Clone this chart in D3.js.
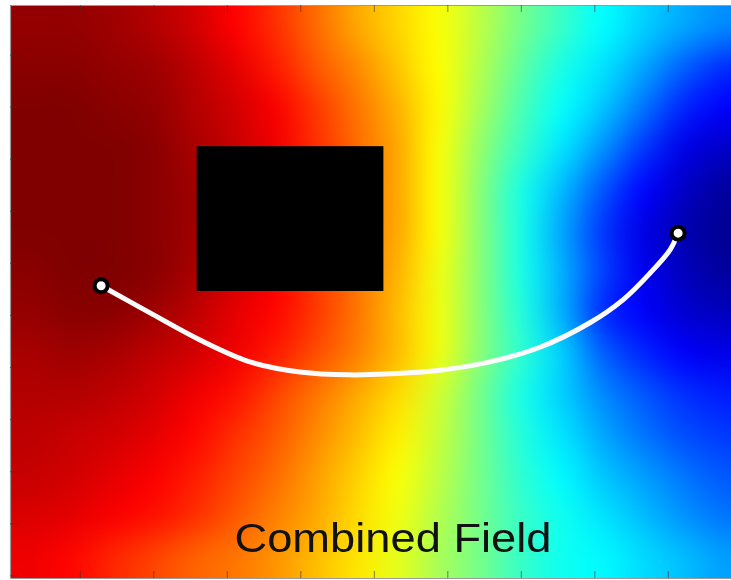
<!DOCTYPE html>
<html>
<head>
<meta charset="utf-8">
<script src="https://cdn.jsdelivr.net/npm/d3@7"></script>
<style>
  html, body { margin: 0; padding: 0; background: #ffffff; }
  #wrap { position: relative; width: 731px; height: 580px; overflow: hidden; }
  canvas, svg { position: absolute; left: 0; top: 0; }
</style>
</head>
<body>
<div id="wrap">
  <canvas id="field" width="731" height="580"></canvas>
  <svg id="chart" width="731" height="580"></svg>
</div>
<script>
// ---------------- DATA ----------------
const titleText = "Combined Field";
const xDomain = [0.5, 100.5];
const yDomain = [0.5, 110.5];
const xTicks = [10, 20, 30, 40, 50, 60, 70, 80, 90, 100];
const yTicks = [10, 20, 30, 40, 50, 60, 70, 80, 90, 100, 110];

// coarse samples of the combined field (0 = low / goal, 1 = high), read row by row, top to bottom
const fieldRows = [
  [0.98,0.98,0.97,0.95,0.92,0.875,0.83,0.77,0.71,0.665,0.62,0.56,0.49,0.43,0.375,0.33,0.29,0.26],
  [0.99,0.99,0.98,0.97,0.94,0.90,0.85,0.79,0.74,0.68,0.625,0.55,0.47,0.40,0.35,0.29,0.22,0.17],
  [1.00,1.00,0.99,0.98,0.95,0.92,0.88,0.82,0.76,0.70,0.63,0.54,0.45,0.38,0.32,0.24,0.16,0.12],
  [1.00,1.00,1.00,0.99,0.96,0.93,0.89,0.83,0.77,0.71,0.62,0.52,0.43,0.35,0.27,0.18,0.10,0.07],
  [1.00,1.00,1.00,0.99,0.97,0.95,0.90,0.85,0.77,0.71,0.62,0.51,0.40,0.31,0.21,0.13,0.07,0.03],
  [1.00,1.00,1.00,0.99,0.97,0.95,0.90,0.85,0.76,0.71,0.62,0.51,0.40,0.29,0.18,0.10,0.05,0.02],
  [0.99,1.00,1.00,0.99,0.96,0.92,0.88,0.82,0.76,0.70,0.61,0.51,0.40,0.30,0.19,0.11,0.06,0.03],
  [0.98,0.99,0.99,0.97,0.94,0.90,0.87,0.82,0.76,0.69,0.61,0.51,0.41,0.30,0.17,0.12,0.08,0.06],
  [0.96,0.97,0.96,0.94,0.92,0.89,0.85,0.80,0.75,0.69,0.61,0.51,0.42,0.33,0.22,0.16,0.12,0.10],
  [0.95,0.95,0.94,0.92,0.89,0.86,0.81,0.76,0.71,0.66,0.58,0.49,0.40,0.33,0.26,0.21,0.17,0.15],
  [0.94,0.93,0.92,0.90,0.87,0.83,0.79,0.74,0.69,0.64,0.57,0.49,0.41,0.35,0.29,0.24,0.20,0.18],
  [0.93,0.92,0.90,0.88,0.85,0.81,0.77,0.72,0.67,0.62,0.56,0.49,0.42,0.37,0.32,0.28,0.24,0.21],
  [0.91,0.90,0.88,0.86,0.83,0.79,0.75,0.71,0.66,0.61,0.55,0.49,0.43,0.39,0.35,0.31,0.27,0.24],
  [0.89,0.87,0.84,0.81,0.78,0.76,0.73,0.69,0.65,0.60,0.54,0.49,0.43,0.39,0.37,0.34,0.31,0.28]
];

// obstacle (data units)
const obstacleX = [25.9, 51.3];
const obstacleY = [27.6, 55.4];

// planned path (data units)
const pathX = [12.9, 19.55, 26.35, 33.15, 39.95, 46.76, 52.2, 59.0, 65.8, 72.6, 79.4, 83.9, 87.6, 90.3, 91.4];
const pathY = [54.4, 59.6, 64.8, 69.0, 70.95, 71.5, 71.3, 70.6, 69.0, 66.2, 61.5, 57.1, 51.95, 47.5, 44.3];

// start and goal
const pointX = [12.9, 91.4];
const pointY = [54.4, 44.3];

// ---------------- SCALES ----------------
const x = d3.scaleLinear().domain(xDomain).range([10, 745]);
const y = d3.scaleLinear().domain(yDomain).range([5, 578]);

function jet(t) {
  const c = v => Math.max(0, Math.min(1, v));
  const r = c(1.5 - Math.abs(4 * t - 3));
  const g = c(1.5 - Math.abs(4 * t - 2));
  const b = c(1.5 - Math.abs(4 * t - 1));
  return d3.rgb(r * 255, g * 255, b * 255);
}
const color = d3.scaleSequential(jet).domain([0, 1]);

// ---------------- FIELD ----------------
const nRows = fieldRows.length, nCols = fieldRows[0].length;
const off = document.createElement("canvas");
off.width = nCols; off.height = nRows;
const octx = off.getContext("2d");
const img = octx.createImageData(nCols, nRows);
fieldRows.forEach((row, j) => row.forEach((v, i) => {
  const c = color(v);
  const k = (j * nCols + i) * 4;
  img.data[k] = c.r; img.data[k + 1] = c.g; img.data[k + 2] = c.b; img.data[k + 3] = 255;
}));
octx.putImageData(img, 0, 0);

const gx = d3.scaleLinear().domain([0, nCols]).range([x(xDomain[0]), x(xDomain[1])]);
const gy = d3.scaleLinear().domain([0, nRows]).range([y(yDomain[0]), y(yDomain[1])]);
const ctx = document.getElementById("field").getContext("2d");
ctx.imageSmoothingEnabled = true;
ctx.imageSmoothingQuality = "high";
ctx.drawImage(off, gx(0), gy(0), gx(nCols) - gx(0), gy(nRows) - gy(0));

// ---------------- SVG ----------------
const svg = d3.select("#chart");

svg.append("rect")
  .attr("x", x(obstacleX[0])).attr("y", y(obstacleY[0]))
  .attr("width", x(obstacleX[1]) - x(obstacleX[0]))
  .attr("height", y(obstacleY[1]) - y(obstacleY[0]))
  .attr("fill", "#000");

const tickStyle = g => {
  g.select(".domain").attr("stroke", "#9a9a9a").attr("stroke-width", 1.2);
  g.selectAll(".tick line").attr("stroke", "#333").attr("stroke-opacity", 0.6);
  g.selectAll(".tick text").remove();
};
svg.append("g").attr("transform", `translate(0,${y(yDomain[0])})`)
  .call(d3.axisTop(x).tickValues(xTicks).tickSizeInner(-7).tickSizeOuter(0)).call(tickStyle);
svg.append("g").attr("transform", `translate(0,${y(yDomain[1])})`)
  .call(d3.axisBottom(x).tickValues(xTicks).tickSizeInner(-7).tickSizeOuter(0)).call(tickStyle);
svg.append("g").attr("transform", `translate(${x(xDomain[0])},0)`)
  .call(d3.axisLeft(y).tickValues(yTicks).tickSizeInner(-7).tickSizeOuter(0)).call(tickStyle);

const pts = pathX.map((v, i) => [v, pathY[i]]);
const line = d3.line().x(d => x(d[0])).y(d => y(d[1])).curve(d3.curveCatmullRom.alpha(0.5));
svg.append("path").attr("d", line(pts))
  .attr("fill", "none").attr("stroke", "#fbfbfb").attr("stroke-width", 5)
  .attr("stroke-linecap", "round").attr("stroke-linejoin", "round");

svg.selectAll("circle.pt").data(pointX.map((v, i) => [v, pointY[i]])).enter()
  .append("circle").attr("class", "pt")
  .attr("cx", d => x(d[0])).attr("cy", d => y(d[1])).attr("r", 6.5)
  .attr("fill", "#fff").attr("stroke", "#000").attr("stroke-width", 4);

svg.append("text")
  .attr("x", 393).attr("y", 552)
  .attr("text-anchor", "middle")
  .attr("font-family", "Liberation Sans, Arial, sans-serif")
  .attr("font-size", 41)
  .attr("textLength", 317).attr("lengthAdjust", "spacingAndGlyphs")
  .attr("fill", "#111")
  .text(titleText);
</script>
</body>
</html>
